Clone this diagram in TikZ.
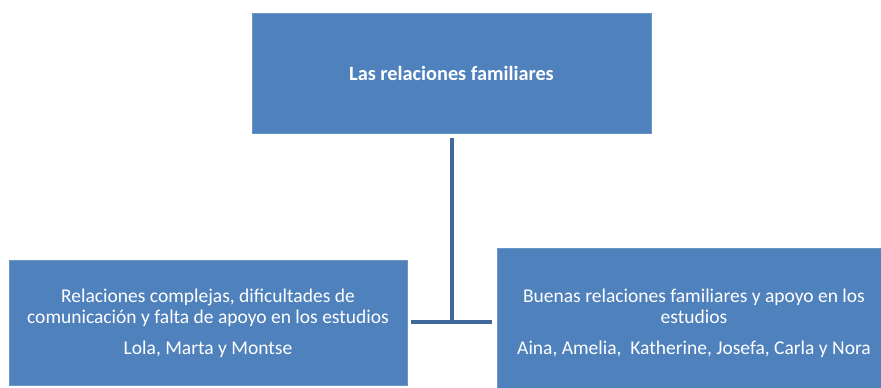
\documentclass[tikz,border=0pt]{standalone}
\usepackage{fontspec}
\setmainfont{Carlito}
\usepackage{xcolor}
\usepackage{tikz}
\usetikzlibrary{positioning}
\definecolor{boxblue}{HTML}{4F81BD}
\definecolor{boxedge}{HTML}{6C95C8}
\definecolor{linkblue}{HTML}{40689A}
\tikzset{
  famblock/.style={rectangle,fill=boxblue,draw=boxedge,line width=0.8pt,
    text=white,align=center,inner sep=0pt},
  famlink/.style={linkblue,line width=4pt}
}

\begin{document}
\begin{tikzpicture}[x=1pt,y=1pt,font=\fontsize{19.5}{21}\selectfont]
  \useasboundingbox (0,0) rectangle (881,388);
  \node[famblock,minimum width=399pt,minimum height=120pt,font=\fontsize{20.3}{21}\selectfont\bfseries]
    (familia) at (451.5,315) {Las relaciones familiares};
  \node[famblock,minimum width=398pt,minimum height=125pt]
    (compleja) at (208,65.5) {\raisebox{-7pt}[0pt][0pt]{\begin{tabular}{@{}c@{}}
      Relaciones complejas, dificultades de\\
      comunicación y falta de apoyo en los estudios\\[10pt]
      Lola, Marta y Montse\end{tabular}}};
  \node[famblock,minimum width=384pt,minimum height=140pt]
    (buena) at (689,70) {\hspace{10pt}\raisebox{-11pt}[0pt][0pt]{\begin{tabular}{@{}c@{}}
      Buenas relaciones familiares y apoyo en los\\
      estudios\\[10pt]
      Aina, Amelia, \ Katherine, Josefa, Carla y Nora\end{tabular}}};
  % connector
  \draw[famlink] ([yshift=-5pt]familia.south) -- (familia.south |- compleja.east);
  \draw[famlink] ([xshift=4pt]compleja.east) -- ([xshift=-5pt]buena.west |- compleja.east);
\end{tikzpicture}
\end{document}
